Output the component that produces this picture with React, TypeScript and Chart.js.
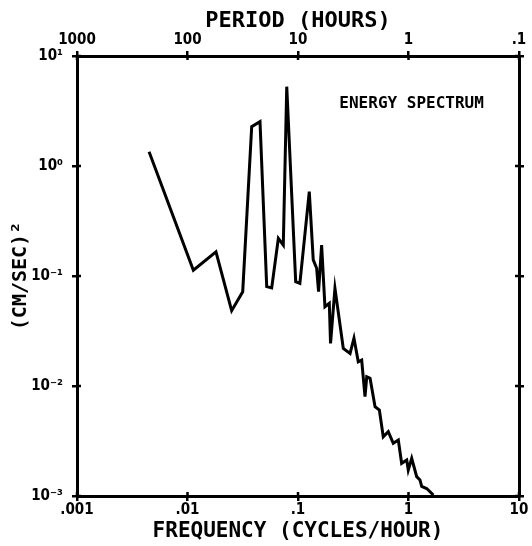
import React, { useEffect, useRef } from "react";
import { Chart, registerables } from "chart.js";

Chart.register(...registerables);

// Frequency (cycles/hour) and energy (cm/sec)^2
const freq: number[] = [
  0.00449, 0.0113, 0.0181, 0.0251, 0.0316, 0.0381, 0.0453, 0.0521, 0.0578, 0.0664,
  0.0736, 0.0791, 0.0953, 0.104, 0.1265, 0.1374, 0.1475, 0.1535, 0.1636, 0.1753,
  0.192, 0.197, 0.216, 0.257, 0.296, 0.321, 0.351, 0.377, 0.404, 0.419,
  0.449, 0.498, 0.545, 0.591, 0.656, 0.728, 0.809, 0.867, 0.964, 0.995,
  1.069, 1.186, 1.27, 1.316, 1.46, 1.68,
];
const energy: number[] = [
  1.35, 0.113, 0.166, 0.0484, 0.072, 2.28, 2.53, 0.08, 0.078, 0.22,
  0.191, 5.26, 0.0888, 0.0858, 0.584, 0.14, 0.1175, 0.072, 0.191, 0.0526,
  0.0565, 0.0244, 0.0773, 0.022, 0.0198, 0.0272, 0.0166, 0.0172, 0.008, 0.01215,
  0.01175, 0.00649, 0.00605, 0.00346, 0.00385, 0.00301, 0.00323, 0.00198, 0.00212, 0.00172,
  0.0022, 0.0015, 0.0014, 0.00122, 0.00117, 0.00102,
];

const xDecades: number[] = [0.001, 0.01, 0.1, 1, 10];
const freqLabels: string[] = [".001", ".01", ".1", "1", "10"];
const periodLabels: string[] = ["1000", "100", "10", "1", ".1"];
const yDecades: number[] = [0.001, 0.01, 0.1, 1, 10];
const yLabels: string[] = ["10\u207B\u00B3", "10\u207B\u00B2", "10\u207B\u00B9", "10\u2070", "10\u00B9"];

const xTitle = "FREQUENCY (CYCLES/HOUR)";
const topTitle = "PERIOD (HOURS)";
const yTitle = "(CM/SEC)\u00B2";
const note = "ENERGY SPECTRUM";

const MONO = "'DejaVu Sans Mono', monospace";
const NARROW = "'Liberation Sans Narrow', 'DejaVu Sans Condensed', sans-serif";

const idx = (arr: number[], v: number) => {
  let best = 0;
  for (let i = 1; i < arr.length; i++) {
    if (Math.abs(Math.log10(arr[i]) - Math.log10(v)) < Math.abs(Math.log10(arr[best]) - Math.log10(v))) best = i;
  }
  return best;
};

const notePlugin = {
  id: "notePlugin",
  afterDraw(chart: any) {
    const { ctx, chartArea, scales } = chart;
    ctx.save();
    // inner tick marks on all four sides
    ctx.strokeStyle = "#000";
    ctx.lineWidth = 2.5;
    const L = 4;
    ctx.beginPath();
    xDecades.forEach((v) => {
      const px = scales.x.getPixelForValue(v);
      ctx.moveTo(px, chartArea.bottom);
      ctx.lineTo(px, chartArea.bottom - L);
      ctx.moveTo(px, chartArea.top);
      ctx.lineTo(px, chartArea.top + L);
    });
    yDecades.forEach((v) => {
      const py = scales.y.getPixelForValue(v);
      ctx.moveTo(chartArea.left, py);
      ctx.lineTo(chartArea.left + L, py);
      ctx.moveTo(chartArea.right, py);
      ctx.lineTo(chartArea.right - L, py);
    });
    ctx.stroke();
    ctx.fillStyle = "#000";
    ctx.font = `bold 16px ${MONO}`;
    ctx.textAlign = "center";
    ctx.textBaseline = "middle";
    const w = chartArea.right - chartArea.left;
    const h = chartArea.bottom - chartArea.top;
    ctx.fillText(note, chartArea.left + w * 0.757, chartArea.top + h * 0.109);
    ctx.restore();
  },
};

export default function App() {
  const ref = useRef<HTMLCanvasElement | null>(null);
  useEffect(() => {
    if (!ref.current) return;
    const data = freq.map((f, i) => ({ x: f, y: energy[i] }));
    const gridOpts = {
      drawOnChartArea: false,
      drawTicks: true,
      tickLength: 5,
      color: "#000",
      lineWidth: 2.5,
    };
    const border = { display: true, color: "#000", width: 3 };
    const tickFont = { family: NARROW, weight: "bold", size: 15 };
    const chart = new Chart(ref.current, {
      type: "line",
      data: {
        datasets: [
          {
            data,
            borderColor: "#000",
            borderWidth: 3,
            pointRadius: 0,
            tension: 0,
            fill: false,
            xAxisID: "x",
            yAxisID: "y",
          },
        ],
      },
      options: {
        animation: false,
        responsive: false,
        maintainAspectRatio: false,
        layout: { padding: 0 },
        plugins: { legend: { display: false }, tooltip: { enabled: false } },
        scales: {
          x: {
            type: "logarithmic",
            position: "bottom",
            min: 0.001,
            max: 10,
            afterBuildTicks: (s: any) => {
              s.ticks = xDecades.map((v) => ({ value: v }));
            },
            afterFit: (s: any) => {
              s.height = 50;
            },
            grid: gridOpts,
            border,
            ticks: {
              color: "#000",
              padding: 0,
              maxRotation: 0,
              autoSkip: false,
              font: tickFont,
              callback: (v: any) => freqLabels[idx(xDecades, Number(v))],
            },
            title: {
              display: true,
              text: xTitle,
              color: "#000",
              font: { family: MONO, weight: "bold", size: 21 },
              padding: { top: 0, bottom: 2 },
            },
          },
          x2: {
            type: "logarithmic",
            position: "top",
            axis: "x",
            min: 0.001,
            max: 10,
            afterBuildTicks: (s: any) => {
              s.ticks = xDecades.map((v) => ({ value: v }));
            },
            afterFit: (s: any) => {
              s.height = 56;
            },
            grid: gridOpts,
            border,
            ticks: {
              color: "#000",
              padding: 2,
              maxRotation: 0,
              autoSkip: false,
              font: tickFont,
              callback: (v: any) => periodLabels[idx(xDecades, Number(v))],
            },
            title: {
              display: true,
              text: topTitle,
              color: "#000",
              font: { family: MONO, weight: "bold", size: 22 },
              padding: { top: 8.5, bottom: 0 },
            },
          },
          y: {
            type: "logarithmic",
            position: "left",
            min: 0.001,
            max: 10,
            afterBuildTicks: (s: any) => {
              s.ticks = yDecades.map((v) => ({ value: v }));
            },
            afterFit: (s: any) => {
              s.width = 77;
            },
            grid: gridOpts,
            border,
            ticks: {
              color: "#000",
              padding: 9,
              autoSkip: false,
              font: tickFont,
              callback: (v: any) => yLabels[idx(yDecades, Number(v))],
            },
            title: {
              display: true,
              text: yTitle,
              color: "#000",
              font: { family: MONO, weight: "bold", size: 20 },
              padding: { top: 9, bottom: 0 },
            },
          },
          y2: {
            type: "logarithmic",
            position: "right",
            axis: "y",
            min: 0.001,
            max: 10,
            afterBuildTicks: (s: any) => {
              s.ticks = yDecades.map((v) => ({ value: v }));
            },
            afterFit: (s: any) => {
              s.width = 13;
            },
            grid: gridOpts,
            border,
            ticks: { display: false },
          },
        },
      } as any,
      plugins: [notePlugin],
    });
    return () => chart.destroy();
  }, []);
  return (
    <div style={{ position: "fixed", left: 0, top: 0, width: 532, height: 546, background: "#fff" }}>
      <canvas ref={ref} width={532} height={546} style={{ width: 532, height: 546, display: "block" }} />
    </div>
  );
}
